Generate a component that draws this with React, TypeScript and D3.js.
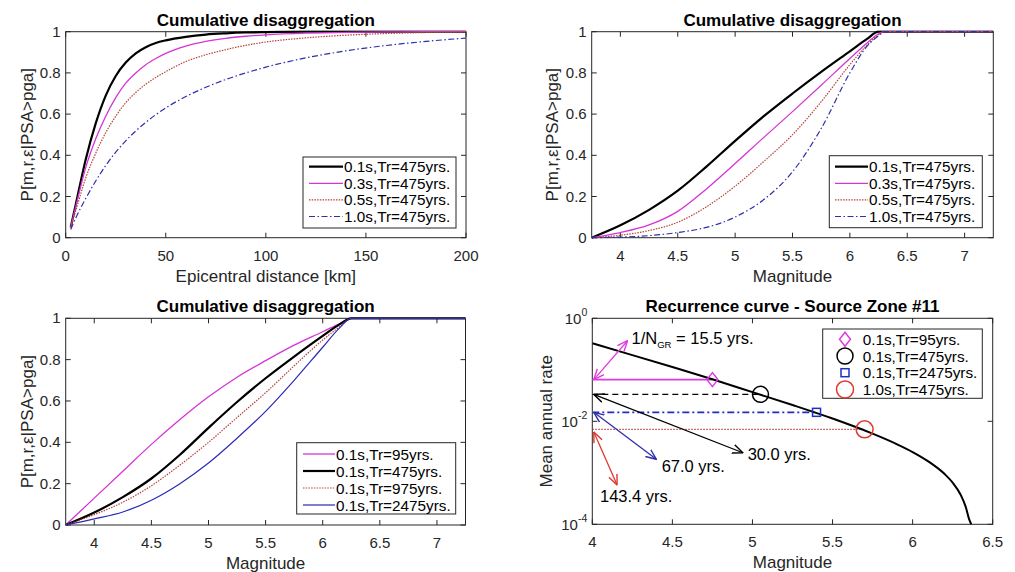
import React from 'react';
import * as d3 from 'd3';

const FONT = "Arial, 'Liberation Sans', Helvetica, sans-serif";
const AX = '#262626';

// ---------- Panel 1: cumulative disaggregation vs epicentral distance ----------
const DIST = [2.5, 5, 10, 15, 20, 25, 30, 35, 40, 45, 50, 60, 70, 80, 90, 100, 120, 140, 160, 180, 200];
const P1_T01 = [0.05, 0.16, 0.38, 0.555, 0.69, 0.785, 0.85, 0.895, 0.925, 0.945, 0.958, 0.975, 0.986, 0.992, 0.996, 0.998, 1, 1, 1, 1, 1];
const P1_T03 = [0.05, 0.15, 0.34, 0.48, 0.59, 0.68, 0.75, 0.8, 0.84, 0.87, 0.895, 0.93, 0.953, 0.968, 0.978, 0.985, 0.993, 0.997, 0.999, 1, 1];
const P1_T05 = [0.05, 0.13, 0.29, 0.41, 0.51, 0.59, 0.655, 0.705, 0.745, 0.778, 0.806, 0.855, 0.888, 0.913, 0.934, 0.95, 0.97, 0.983, 0.991, 0.996, 0.999];
const P1_T10 = [0.04, 0.095, 0.19, 0.275, 0.35, 0.415, 0.47, 0.518, 0.56, 0.597, 0.63, 0.685, 0.73, 0.768, 0.8, 0.828, 0.873, 0.907, 0.933, 0.953, 0.969];
const P1_LABELS = ['0.1s,Tr=475yrs.', '0.3s,Tr=475yrs.', '0.5s,Tr=475yrs.', '1.0s,Tr=475yrs.'];
const DIST_TICKS = [0, 50, 100, 150, 200];

// ---------- Panel 2 & 3: cumulative disaggregation vs magnitude ----------
const MAG = [3.75, 4, 4.25, 4.5, 4.75, 5, 5.25, 5.5, 5.75, 6, 6.15, 6.25, 6.3, 7.25];
const P2_T01 = [0, 0.06, 0.135, 0.228, 0.345, 0.47, 0.59, 0.7, 0.805, 0.905, 0.965, 1, 1, 1];
const P2_T03 = [0, 0.025, 0.062, 0.128, 0.237, 0.36, 0.487, 0.612, 0.74, 0.87, 0.945, 0.99, 1, 1];
const P2_T05 = [0, 0.012, 0.035, 0.075, 0.15, 0.25, 0.37, 0.5, 0.66, 0.84, 0.935, 0.985, 1, 1];
const P2_T10 = [0, 0.003, 0.01, 0.025, 0.05, 0.1, 0.185, 0.32, 0.53, 0.8, 0.93, 0.98, 1, 1];

const P3_TR95 = [0, 0.13, 0.26, 0.39, 0.51, 0.62, 0.715, 0.795, 0.87, 0.935, 0.975, 1, 1, 1];
const P3_TR475 = [0, 0.06, 0.135, 0.225, 0.34, 0.47, 0.595, 0.71, 0.815, 0.915, 0.972, 1, 1, 1];
const P3_TR975 = [0, 0.05, 0.11, 0.19, 0.29, 0.4, 0.52, 0.64, 0.77, 0.895, 0.96, 1, 1, 1];
const P3_TR2475 = [0, 0.03, 0.063, 0.12, 0.2, 0.3, 0.42, 0.55, 0.7, 0.86, 0.955, 1, 1, 1];
const P3_LABELS = ['0.1s,Tr=95yrs.', '0.1s,Tr=475yrs.', '0.1s,Tr=975yrs.', '0.1s,Tr=2475yrs.'];
const MAG_TICKS = [4, 4.5, 5, 5.5, 6, 6.5, 7];
const P_TICKS = [0, 0.2, 0.4, 0.6, 0.8, 1];

// ---------- Panel 4: recurrence curve ----------
const REC_M = [4, 4.25, 4.5, 4.75, 5, 5.25, 5.5, 5.75, 5.9, 6, 6.1, 6.2, 6.25, 6.3, 6.33, 6.355, 6.366];
const REC_RATE = [0.327, 0.193, 0.113, 0.0655, 0.0368, 0.0207, 0.0113, 0.00575, 0.00361, 0.00253, 0.00165, 0.000946, 0.000645, 0.000375, 0.000226, 0.00012, 0.0001];
const MARK_M = [4.75, 5.05, 5.4, 5.7];
const MARK_T = [15.5, 30.0, 67.0, 143.4];
const MARK_LABELS = ['0.1s,Tr=95yrs.', '0.1s,Tr=475yrs.', '0.1s,Tr=2475yrs.', '1.0s,Tr=475yrs.'];
const ARROW_START_R = [1 / 15.5, 1 / 30, 1 / 67, 0.0062];
const ARROW_END_M = [4.22, 4.94, 4.4, 4.155];
const ARROW_END_R = [0.367, 0.00245, 0.00183, 0.00058];
const NOTE_M = [4.245, 4.97, 4.433, 4.048];
const NOTE_R = [0.414, 0.00229, 0.00132, 0.000344];
const REC_X_TICKS = [4, 4.5, 5, 5.5, 6, 6.5];
const REC_Y_EXP = [0, -2, -4];

const C_BLACK = '#000000';
const C_MAG = '#d535d5';
const C_RED = '#b5433b';
const C_BLUE = '#2f2fa8';
const C_BLUE3 = '#2b2bb5';
const C_MARK_MAG = '#e03be0';
const C_MARK_BLUE = '#1f2fc0';
const C_MARK_RED = '#e03a30';

type Series = { xs: number[]; ys: number[]; color: string; width: number; dash?: string; label: string };
type Legend = { x: number; y: number; w: number; h: number; row0: number; dy: number; l0: number; l1: number; tx: number };

function fmt(v: number) {
  return String(+v.toFixed(2));
}

function Frame(props: {
  id: string;
  left: number; top: number; right: number; bottom: number;
  x: any; y: any;
  xTicks: number[]; yTicks: number[];
  yTickLabel: (v: number) => React.ReactNode;
  title: string; xLabel: string; yLabel: string; yLabelDx: number;
  children?: React.ReactNode;
}) {
  const { left, top, right, bottom, x, y, xTicks, yTicks } = props;
  const tl = 5;
  return (
    <g>
      <defs>
        <clipPath id={props.id}>
          <rect x={left} y={top - 1.5} width={right - left} height={bottom - top + 3} />
        </clipPath>
      </defs>
      <rect x={left} y={top} width={right - left} height={bottom - top} fill="#fff" />
      <rect x={left} y={top} width={right - left} height={bottom - top} fill="none" stroke={AX} strokeWidth={1} />
      {xTicks.map((t) => (
        <g key={'xt' + t}>
          <line x1={x(t)} x2={x(t)} y1={bottom} y2={bottom - tl} stroke={AX} />
          <line x1={x(t)} x2={x(t)} y1={top} y2={top + tl} stroke={AX} />
          <text x={x(t)} y={bottom + 23} textAnchor="middle" fontSize={15} fill={AX}>{fmt(t)}</text>
        </g>
      ))}
      {yTicks.map((t) => (
        <g key={'yt' + t}>
          <line x1={left} x2={left + tl} y1={y(t)} y2={y(t)} stroke={AX} />
          <line x1={right} x2={right - tl} y1={y(t)} y2={y(t)} stroke={AX} />
          {props.yTickLabel(t)}
        </g>
      ))}
      <g clipPath={`url(#${props.id})`}>{props.children}</g>
      <text x={(left + right) / 2} y={top - 6} textAnchor="middle" fontSize={17} fontWeight="bold" fill="#000">{props.title}</text>
      <text x={(left + right) / 2} y={bottom + 44} textAnchor="middle" fontSize={17} fill={AX}>{props.xLabel}</text>
      <text transform={`translate(${left + props.yLabelDx},${(top + bottom) / 2}) rotate(-90)`} textAnchor="middle" fontSize={17} fill={AX}>{props.yLabel}</text>
    </g>
  );
}

function LinePanel(props: {
  id: string; left: number; top: number; right: number; bottom: number;
  xDomain: [number, number]; xTicks: number[]; title: string; xLabel: string;
  series: Series[]; legend: Legend; yLabelDx: number;
}) {
  const { left, top, right, bottom, legend } = props;
  const x = d3.scaleLinear().domain(props.xDomain).range([left, right]);
  const y = d3.scaleLinear().domain([0, 1]).range([bottom, top]);
  const line = d3.line<[number, number]>().x((d) => x(d[0])).y((d) => y(d[1])).curve(d3.curveMonotoneX);
  return (
    <g>
      <Frame id={props.id} left={left} top={top} right={right} bottom={bottom} x={x} y={y}
        xTicks={props.xTicks} yTicks={P_TICKS}
        yTickLabel={(t) => <text x={left - 5} y={y(t) + 5} textAnchor="end" fontSize={15} fill={AX}>{fmt(t)}</text>}
        title={props.title} xLabel={props.xLabel} yLabel="P[m,r,ε|PSA>pga]" yLabelDx={props.yLabelDx}>
        {props.series.map((s, i) => (
          <path key={i} d={line(s.xs.map((v, k) => [v, s.ys[k]]) as [number, number][]) || ''}
            fill="none" stroke={s.color} strokeWidth={s.width} strokeDasharray={s.dash} strokeLinejoin="round" />
        ))}
      </Frame>
      <rect x={legend.x} y={legend.y} width={legend.w} height={legend.h} fill="#fff" stroke={AX} strokeWidth={1} />
      {props.series.map((s, i) => {
        const ry = legend.row0 + i * legend.dy;
        return (
          <g key={'lg' + i}>
            <line x1={legend.l0} x2={legend.l1} y1={ry} y2={ry} stroke={s.color} strokeWidth={s.width} strokeDasharray={s.dash} />
            <text x={legend.tx} y={ry + 5.5} fontSize={15.3} fill="#000">{s.label}</text>
          </g>
        );
      })}
    </g>
  );
}

function ArrowDefs() {
  const cols = [C_MARK_MAG, C_BLACK, C_BLUE, C_MARK_RED];
  return (
    <defs>
      {cols.map((c, i) => (
        <marker key={i} id={'ah' + i} viewBox="0 0 10 10" refX={9.5} refY={5} markerWidth={11} markerHeight={11}
          markerUnits="userSpaceOnUse" orient="auto-start-reverse">
          <path d="M0,1 L9.5,5 L0,9" fill="none" stroke={c} strokeWidth={1.3} />
        </marker>
      ))}
    </defs>
  );
}

function RecurrencePanel() {
  const left = 592.3, right = 992.7, top = 318.3, bottom = 524.3;
  const x = d3.scaleLinear().domain([4, 6.5]).range([left, right]);
  const y = d3.scaleLog().domain([1e-4, 1]).range([bottom, top]);
  const line = d3.line<[number, number]>().x((d) => x(d[0])).y((d) => y(d[1])).curve(d3.curveMonotoneX);
  const recPts = REC_M.map((m, i) => [m, REC_RATE[i]] as [number, number]);
  const markCols = [C_MARK_MAG, C_BLACK, C_MARK_BLUE, C_MARK_RED];
  const lineCols = [C_MARK_MAG, C_BLACK, C_MARK_BLUE, C_RED];
  const lineDash = [undefined, '6,4', '7,3,2,3', '1.5,1.5'];
  const lineW = [1.6, 1.1, 1.8, 1.2];
  const arrowCols = [C_MARK_MAG, C_BLACK, C_BLUE, C_MARK_RED];

  const marker = (i: number, cx: number, cy: number) => {
    if (i === 0) {
      return <path d={`M${cx},${cy - 7} L${cx + 5.5},${cy} L${cx},${cy + 7} L${cx - 5.5},${cy} Z`} fill="none" stroke={markCols[0]} strokeWidth={1.5} />;
    }
    if (i === 2) {
      return <rect x={cx - 4} y={cy - 4} width={8} height={8} fill="none" stroke={markCols[2]} strokeWidth={1.5} />;
    }
    return <circle cx={cx} cy={cy} r={i === 1 ? 8 : 8.5} fill="none" stroke={markCols[i]} strokeWidth={1.5} />;
  };

  const notes: React.ReactNode[] = [
    <text key="n0" x={x(NOTE_M[0])} y={y(NOTE_R[0]) + 5.5} fontSize={16.5} fill="#000">
      1/N<tspan fontSize={9.5} dy={4}>GR</tspan><tspan dy={-4}> = {MARK_T[0].toFixed(1)} yrs.</tspan>
    </text>,
  ];
  for (let i = 1; i < 4; i++) {
    notes.push(
      <text key={'n' + i} x={x(NOTE_M[i])} y={y(NOTE_R[i]) + 5.5} fontSize={16.5} fill="#000">{MARK_T[i].toFixed(1)} yrs.</text>
    );
  }

  return (
    <g>
      <ArrowDefs />
      <Frame id="clip4" left={left} top={top} right={right} bottom={bottom} x={x} y={y}
        xTicks={REC_X_TICKS} yTicks={REC_Y_EXP.map((e) => Math.pow(10, e))}
        yTickLabel={(t) => {
          const e = Math.round(Math.log10(t));
          const es = e === 0 ? '0' : '-' + Math.abs(e);
          return (
            <text x={left - 5} y={y(t) + 6} textAnchor="end" fontSize={15} fill={AX}>
              10<tspan fontSize={10.5} dy={-8}>{es}</tspan>
            </text>
          );
        }}
        title="Recurrence curve - Source Zone #11" xLabel="Magnitude" yLabel="Mean annual rate" yLabelDx={-40}>
        {MARK_M.map((m, i) => (
          <line key={'h' + i} x1={x(4)} x2={x(m)} y1={y(1 / MARK_T[i])} y2={y(1 / MARK_T[i])}
            stroke={lineCols[i]} strokeWidth={lineW[i]} strokeDasharray={lineDash[i]} />
        ))}
        <path d={line(recPts) || ''} fill="none" stroke="#000" strokeWidth={2} />
        {MARK_M.map((m, i) => <g key={'m' + i}>{marker(i, x(m), y(1 / MARK_T[i]))}</g>)}
        {ARROW_END_M.map((m, i) => (
          <line key={'a' + i} x1={x(4) + 1.5} y1={y(ARROW_START_R[i])} x2={x(m)} y2={y(ARROW_END_R[i])}
            stroke={arrowCols[i]} strokeWidth={1.3} markerStart={`url(#ah${i})`} markerEnd={`url(#ah${i})`} />
        ))}
      </Frame>
      {notes}
      <rect x={822.7} y={329} width={159.6} height={69.3} fill="#fff" stroke={AX} strokeWidth={1} />
      {MARK_LABELS.map((lab, i) => {
        const ry = 339.3 + i * 16.7;
        return (
          <g key={'ml' + i}>
            {marker(i, 845, ry)}
            <text x={862.7} y={ry + 5.5} fontSize={15.3} fill="#000">{lab}</text>
          </g>
        );
      })}
    </g>
  );
}

export default function App() {
  const s1: Series[] = [
    { xs: DIST, ys: P1_T01, color: C_BLACK, width: 2.2, label: P1_LABELS[0] },
    { xs: DIST, ys: P1_T03, color: C_MAG, width: 1.3, label: P1_LABELS[1] },
    { xs: DIST, ys: P1_T05, color: C_RED, width: 1.2, dash: '1.5,1.2', label: P1_LABELS[2] },
    { xs: DIST, ys: P1_T10, color: C_BLUE, width: 1.2, dash: '6,2.5,1.5,2.5', label: P1_LABELS[3] },
  ];
  const s2: Series[] = [
    { xs: MAG, ys: P2_T01, color: C_BLACK, width: 2.2, label: P1_LABELS[0] },
    { xs: MAG, ys: P2_T03, color: C_MAG, width: 1.3, label: P1_LABELS[1] },
    { xs: MAG, ys: P2_T05, color: C_RED, width: 1.2, dash: '1.5,1.2', label: P1_LABELS[2] },
    { xs: MAG, ys: P2_T10, color: C_BLUE, width: 1.2, dash: '6,2.5,1.5,2.5', label: P1_LABELS[3] },
  ];
  const s3: Series[] = [
    { xs: MAG, ys: P3_TR95, color: C_MAG, width: 1.3, label: P3_LABELS[0] },
    { xs: MAG, ys: P3_TR475, color: C_BLACK, width: 2.2, label: P3_LABELS[1] },
    { xs: MAG, ys: P3_TR975, color: C_RED, width: 1.2, dash: '1.5,1.2', label: P3_LABELS[2] },
    { xs: MAG, ys: P3_TR2475, color: C_BLUE3, width: 1.2, label: P3_LABELS[3] },
  ];
  return (
    <svg width={1015} height={572} style={{ position: 'absolute', left: 0, top: 0, fontFamily: FONT, background: '#fff' }}>
      <rect x={0} y={0} width={1015} height={572} fill="#fff" />
      <LinePanel id="clip1" left={65.7} top={31.7} right={466} bottom={237.7} xDomain={[0, 200]} xTicks={DIST_TICKS}
        title="Cumulative disaggregation" xLabel="Epicentral distance [km]" series={s1} yLabelDx={-33}
        legend={{ x: 303, y: 157, w: 153, h: 71, row0: 166.7, dy: 16.6, l0: 309, l1: 343, tx: 344 }} />
      <LinePanel id="clip2" left={591.7} top={31.7} right={993.3} bottom={237.7} xDomain={[3.75, 7.25]} xTicks={MAG_TICKS}
        title="Cumulative disaggregation" xLabel="Magnitude" series={s2} yLabelDx={-34}
        legend={{ x: 829.3, y: 155.7, w: 153, h: 72, row0: 166.7, dy: 16.6, l0: 835, l1: 868, tx: 869 }} />
      <LinePanel id="clip3" left={65.7} top={318.3} right={465.5} bottom={525} xDomain={[3.75, 7.25]} xTicks={MAG_TICKS}
        title="Cumulative disaggregation" xLabel="Magnitude" series={s3} yLabelDx={-33}
        legend={{ x: 296.7, y: 442.7, w: 159, h: 71.3, row0: 454, dy: 17, l0: 303, l1: 335, tx: 336 }} />
      <RecurrencePanel />
    </svg>
  );
}
